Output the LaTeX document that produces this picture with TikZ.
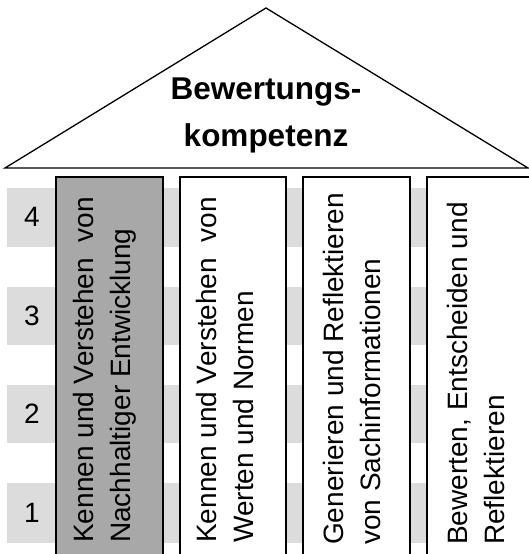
\documentclass[tikz,border=0pt]{standalone}
\usepackage{fontspec}
\setmainfont{Liberation Sans}
\definecolor{bandgray}{HTML}{DCDCDC}
\definecolor{pillargray}{HTML}{A8A8A8}
\begin{document}
\begin{tikzpicture}[x=1pt,y=-1pt,
  band/.style={fill=bandgray,draw=none},
  pillar/.style={draw=black,line width=1.3pt,fill=white},
  ptext/.style={rotate=90,anchor=west,align=left,inner sep=0pt,font=\fontsize{28}{37}\selectfont},
  num/.style={font=\fontsize{28}{30}\selectfont},
  roof/.style={draw=black,line width=1.3pt,fill=white,line join=miter}]
\useasboundingbox (0,0) rectangle (529,554);
% bands
\foreach \t/\b in {188/247,287/345,385/443,483/543}{
  \path[band] (7,\t) rectangle (529,\b);
}
\node[num] (n4) at (32,217) {4};
\node[num] (n3) at (32,316) {3};
\node[num] (n2) at (32,414) {2};
\node[num] (n1) at (32,513) {1};
% roof
\draw[roof] (5,168) -- (266,8) -- (528,168) -- cycle;
\node[align=center,inner sep=0pt,font=\fontsize{31.5}{47}\selectfont\bfseries] (title) at (266,115) {Bewertungs-\\kompetenz};
% pillars
\draw[pillar,fill=pillargray] (56,177) rectangle (163,560);
\draw[pillar] (180,177) rectangle (286,560);
\draw[pillar] (303,177) rectangle (410,560);
\draw[pillar] (427,177) rectangle (540,560);
\node[ptext] (p1) at (105,543) {Kennen und Verstehen\ \ von\\Nachhaltiger Entwicklung};
\node[ptext] (p2) at (225,543) {Kennen und Verstehen\ \ von\\Werten und Normen};
\node[ptext] (p3) at (352,545) {Generieren und Reflektieren\\von Sachinformationen};
\node[ptext] (p4) at (476,545) {Bewerten, Entscheiden und\\Reflektieren};
\end{tikzpicture}
\end{document}
